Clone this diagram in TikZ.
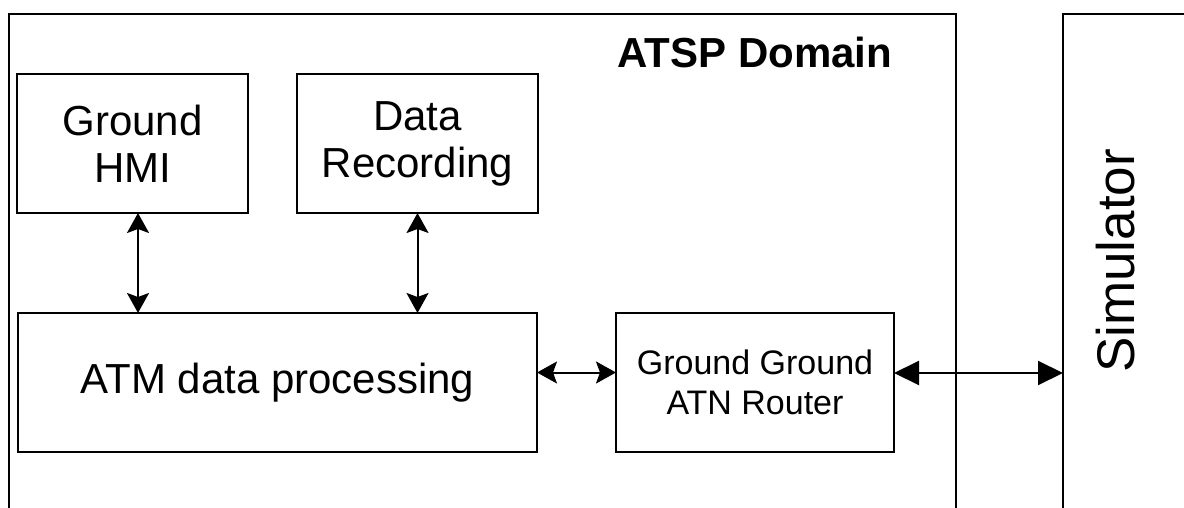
\documentclass[tikz,border=0pt]{standalone}
\usepackage{fontspec}
\setmainfont{Liberation Sans}
\usepackage{tikz}
\usetikzlibrary{positioning, arrows.meta}

\begin{document}
\begin{tikzpicture}[x=1pt, y=1pt, node distance=49pt, line width=2pt]
    % Node Styles
    \tikzstyle{block} = [rectangle, draw, align=center, inner sep=0pt, outer sep=0pt, minimum height=139pt, font=\fontsize{42}{47}\selectfont]
    \tikzstyle{link} = [draw, {Stealth[length=20pt, width=22pt, inset=4pt]}-{Stealth[length=20pt, width=22pt, inset=4pt]}]
    \tikzstyle{biglink} = [draw, {Triangle[length=25pt, width=24pt]}-{Triangle[length=25pt, width=24pt]}]

    \useasboundingbox (0,0) rectangle (1184,507);

    % --- DOMAIN FRAMES ---
    \draw (9,-10) |- (956,493) -- (956,-10);
    \draw (1063,-10) |- (1194,493);
    \node[font=\fontsize{42}{47}\selectfont\bfseries] (atsp) at (755,455) {ATSP Domain};
    \node[rotate=90, font=\fontsize{53}{60}\selectfont] (sim) at (1116,246) {Simulator};

    % --- TOP ROW ---
    \node[block, minimum width=231pt] (hmi) at (132.5,363.5) {Ground\\HMI};
    \node[block, minimum width=241pt, right=of hmi] (rec) {Data\\Recording};

    % --- BOTTOM ROW ---
    \node[block, minimum width=519pt, below right=100pt and 1pt of hmi.south west] (atm) {ATM data processing};
    \node[block, minimum width=278pt, right=79pt of atm, font=\fontsize{34}{40}\selectfont] (router) {Ground Ground\\ATN Router};
    \coordinate (simin) at (1063,134);

    % --- LINKS ---
    \path[link] ([xshift=5.5pt]hmi.south) -- ([xshift=5.5pt]hmi.south |- atm.north);
    \path[link] (rec.south) -- (rec.south |- atm.north);
    \path[link] ([yshift=10pt]atm.east) -- ([yshift=10pt]atm.east -| router.west);
    \path[biglink] ([yshift=9.5pt]router.east) -- (simin);

\end{tikzpicture}
\end{document}
